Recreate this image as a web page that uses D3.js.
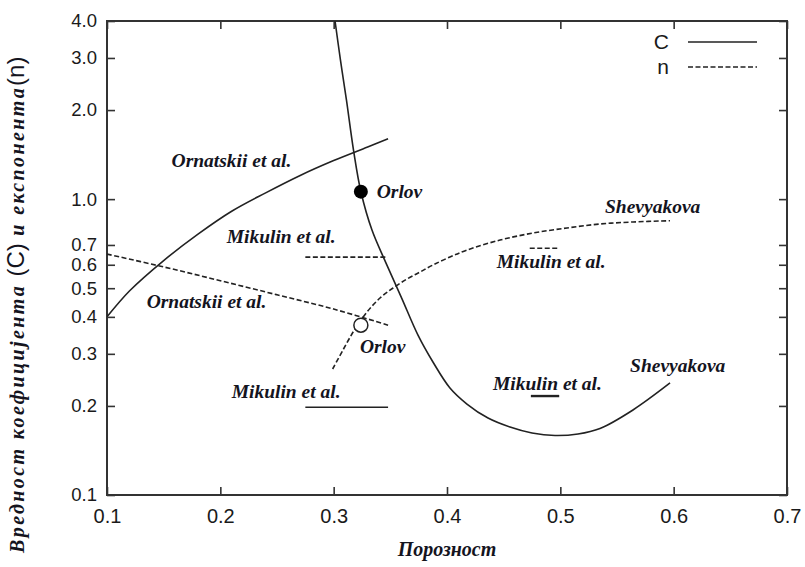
<!DOCTYPE html>
<html>
<head>
<meta charset="utf-8">
<script src="https://cdn.jsdelivr.net/npm/d3@7"></script>
<style>
  html, body { margin: 0; padding: 0; background: #fff; }
  svg { display: block; }
</style>
</head>
<body>
<svg id="chart" width="805" height="567"></svg>
<script>
// Porosity on x, coefficient C / exponent n on a log y axis
const xTicks = [0.1, 0.2, 0.3, 0.4, 0.5, 0.6, 0.7];
const yTicks = [0.1, 0.2, 0.3, 0.4, 0.5, 0.6, 0.7, 1.0, 2.0, 3.0, 4.0];

// Ornatskii et al. — C (solid) and n (dashed)
const ornatskiiC = [[0.10, 0.40], [0.12, 0.49], [0.15, 0.62], [0.18, 0.76], [0.21, 0.91],
                    [0.24, 1.05], [0.27, 1.20], [0.30, 1.35], [0.33, 1.50], [0.348, 1.60]];
const ornatskiiN = [[0.10, 0.652], [0.15, 0.59], [0.20, 0.53], [0.25, 0.475], [0.30, 0.425], [0.348, 0.375]];

// Shevyakova — C (solid) and n (dashed)
const shevyakovaC = [[0.3012, 4.0], [0.306, 2.95], [0.3113, 2.16], [0.3175, 1.465], [0.3241, 1.057],
                     [0.3338, 0.786], [0.3462, 0.608], [0.360, 0.463], [0.3744, 0.347], [0.3876, 0.2815],
                     [0.4026, 0.230], [0.4176, 0.203], [0.4362, 0.182], [0.4556, 0.1697], [0.475, 0.162],
                     [0.4953, 0.1589], [0.5156, 0.1608], [0.535, 0.1678], [0.5641, 0.1938], [0.5968, 0.2391]];
const shevyakovaN = [[0.2991, 0.2666], [0.3082, 0.309], [0.3188, 0.364], [0.3294, 0.4154], [0.3409, 0.4632],
                     [0.3524, 0.5008], [0.3647, 0.537], [0.3762, 0.567], [0.3876, 0.5988], [0.4026, 0.6373],
                     [0.4176, 0.6729], [0.4468, 0.7273], [0.4759, 0.7682], [0.5059, 0.7988], [0.535, 0.8241],
                     [0.5641, 0.8371], [0.5968, 0.8453]];

// Mikulin et al. — short ranges
const mikulinCLeft  = [[0.275, 0.198], [0.348, 0.198]];
const mikulinNLeft  = [[0.275, 0.637], [0.346, 0.637]];
const mikulinCRight = [[0.474, 0.216], [0.499, 0.216]];
const mikulinNRight = [[0.473, 0.682], [0.498, 0.682]];

// Orlov — single values
const orlovC = [0.324, 1.06];
const orlovN = [0.324, 0.375];

// Source labels, anchored in data units (left edge, baseline)
const labelText = ["Ornatskii et al.", "Orlov", "Mikulin et al.", "Ornatskii et al.", "Orlov",
                   "Shevyakova", "Mikulin et al.", "Mikulin et al.", "Shevyakova", "Mikulin et al."];
const labelX = [0.157, 0.338, 0.2056, 0.135, 0.3232, 0.5394, 0.4439, 0.4406, 0.5615, 0.210];
const labelY = [1.287, 1.009, 0.711, 0.4285, 0.302, 0.898, 0.585, 0.2264, 0.2604, 0.2127];

const legendKeys = ["C", "n"];

const svg = d3.select("#chart");
const m = { left: 107, right: 787, top: 21, bottom: 495 };

const x = d3.scaleLinear().domain([0.1, 0.7]).range([m.left, m.right]);
const y = d3.scaleLog().domain([0.1, 4.0]).range([m.bottom, m.top]);

const ink = "#222";
const sans = "'Liberation Sans', Arial, sans-serif";
const serif = "'Liberation Serif', 'Times New Roman', serif";
const dash = "5,2.5";

// axes with inward ticks on all four sides
const fmt = d3.format(".1f");
const gB = svg.append("g").attr("transform", `translate(0,${m.bottom})`)
  .call(d3.axisBottom(x).tickValues(xTicks).tickSize(-8).tickPadding(14).tickFormat(fmt));
const gL = svg.append("g").attr("transform", `translate(${m.left},0)`)
  .call(d3.axisLeft(y).tickValues(yTicks).tickSize(-8).tickPadding(10).tickFormat(fmt));
const gT = svg.append("g").attr("transform", `translate(0,${m.top})`)
  .call(d3.axisTop(x).tickValues(xTicks).tickSize(-8).tickFormat(""));
const gR = svg.append("g").attr("transform", `translate(${m.right},0)`)
  .call(d3.axisRight(y).tickValues(yTicks).tickSize(-8).tickFormat(""));

[gB, gL, gT, gR].forEach(g => {
  g.select(".domain").remove();
  g.selectAll(".tick line").attr("stroke", "#333").attr("stroke-width", 1.6);
  g.selectAll(".tick text").attr("font-family", sans).attr("fill", "#1a1a1a");
});
gB.selectAll(".tick text").attr("font-size", 20);
gL.selectAll(".tick text").attr("font-size", 18.5);

// frame
svg.append("rect")
  .attr("x", m.left).attr("y", m.top)
  .attr("width", m.right - m.left).attr("height", m.bottom - m.top)
  .attr("fill", "none").attr("stroke", "#333").attr("stroke-width", 2);

// curves
const plot = svg.append("g");
plot.append("clipPath").attr("id", "clip").append("rect")
  .attr("x", m.left).attr("y", m.top).attr("width", m.right - m.left).attr("height", m.bottom - m.top);
const lines = plot.append("g").attr("clip-path", "url(#clip)");

const line = d3.line().x(d => x(d[0])).y(d => y(d[1])).curve(d3.curveCatmullRom.alpha(0.5));
const series = [
  { data: ornatskiiC, dashed: false },
  { data: ornatskiiN, dashed: true },
  { data: shevyakovaC, dashed: false },
  { data: shevyakovaN, dashed: true },
  { data: mikulinCLeft, dashed: false },
  { data: mikulinNLeft, dashed: true },
  { data: mikulinCRight, dashed: false, width: 2.4 },
  { data: mikulinNRight, dashed: true }
];
lines.selectAll("path.series").data(series).join("path")
  .attr("class", "series")
  .attr("d", s => line(s.data))
  .attr("fill", "none")
  .attr("stroke", ink)
  .attr("stroke-width", s => s.width || 1.6)
  .attr("stroke-dasharray", s => s.dashed ? dash : null);

// Orlov points
plot.append("circle").attr("cx", x(orlovC[0])).attr("cy", y(orlovC[1])).attr("r", 7).attr("fill", "#000");
plot.append("circle").attr("cx", x(orlovN[0])).attr("cy", y(orlovN[1])).attr("r", 7)
  .attr("fill", "#fff").attr("stroke", ink).attr("stroke-width", 1.5);

// source labels
plot.selectAll("text.src").data(labelText).join("text")
  .attr("class", "src")
  .attr("x", (d, i) => x(labelX[i]))
  .attr("y", (d, i) => y(labelY[i]))
  .attr("font-family", serif).attr("font-style", "italic").attr("font-weight", "bold")
  .attr("font-size", 19.5).attr("fill", "#14141e")
  .text(d => d);

// legend
const leg = svg.append("g");
legendKeys.forEach((k, i) => {
  const ly = 42 + i * 25;
  leg.append("text").attr("x", 669).attr("y", ly + 7).attr("text-anchor", "end")
    .attr("font-family", sans).attr("font-size", 21).attr("fill", "#1a1a1a").text(k);
  leg.append("line").attr("x1", 688).attr("x2", 757).attr("y1", ly).attr("y2", ly)
    .attr("stroke", ink).attr("stroke-width", 1.6)
    .attr("stroke-dasharray", i === 1 ? dash : null);
});

// axis titles
svg.append("text").attr("x", (m.left + m.right) / 2).attr("y", 556).attr("text-anchor", "middle")
  .attr("font-family", serif).attr("font-style", "italic").attr("font-weight", "bold")
  .attr("font-size", 20).attr("fill", "#14141e").text("Порозност");

const yt = svg.append("text").attr("transform", "translate(24,553) rotate(-90)")
  .attr("font-size", 20).attr("fill", "#14141e");
const ySerif = t => yt.append("tspan").attr("font-family", serif).attr("font-style", "italic")
  .attr("font-weight", "bold").attr("letter-spacing", 2.4).text(t);
const ySans = t => yt.append("tspan").attr("font-family", sans).attr("font-size", 24)
  .attr("letter-spacing", 0).text(t);
ySerif("Вредност коефицијента ");
ySans("(C)");
ySerif(" и експонента");
ySans("(n)");
</script>
</body>
</html>
